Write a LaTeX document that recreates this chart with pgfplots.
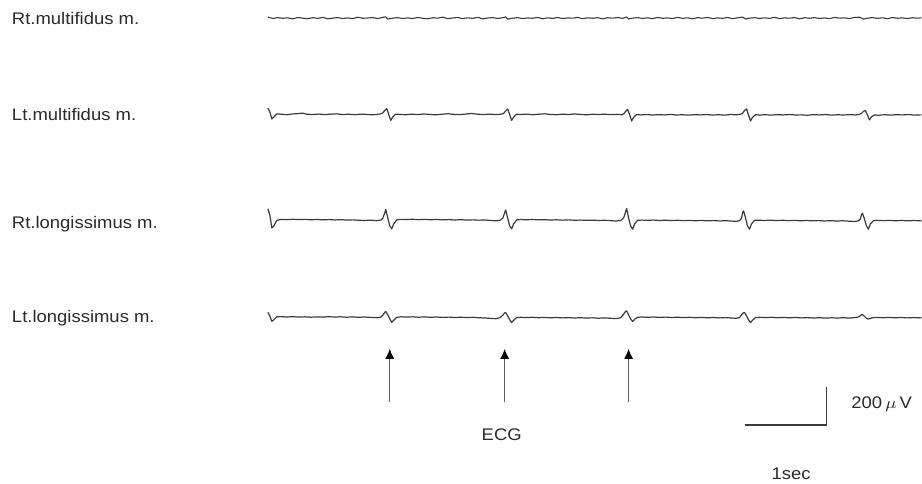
\documentclass[border=0pt]{standalone}
\usepackage{pgfplots}
\pgfplotsset{compat=1.18}
\usepackage{fontspec}
\setmainfont{Liberation Sans}
\usetikzlibrary{arrows.meta}
\definecolor{trace}{HTML}{3A3A3A}
\definecolor{txt}{HTML}{2A2A2A}
\tikzset{lbl/.style={anchor=base west, inner sep=0pt, outer sep=0pt, text=txt,
              font=\fontsize{8.4}{9}\selectfont, xscale=1.1}}
\begin{document}
\begin{tikzpicture}
\begin{axis}[
  scale only axis, width=461pt, height=242pt,
  xmin=0, xmax=922, ymin=0, ymax=484, y dir=reverse,
  hide axis, clip=false,
  every axis plot/.append style={line join=round},
]
\addplot[draw=none] coordinates {(0,0) (922,484)};
% Rt. multifidus
\addplot[trace, line width=0.55pt] coordinates {
(268,17)(273,18.5)(278,17.6)(283,18.3)(288,17.8)(293,18.9)(298,17.5)(303,18.2)(308,18.6)(313,17.7)(318,18.4)(323,17.3)(328,18.8)(333,18.1)(338,17.6)(343,18.5)(348,17.9)(353,18.7)(358,17.2)(363,18.3)(368,18.0)(373,17.6)(378,18.6)(383,17.4)(386,16.8)(388,19.2)(393,18.1)(398,17.7)(403,18.5)(408,17.9)(413,18.6)(418,17.4)(423,18.3)(428,18.8)(433,17.7)(438,18.2)(443,17.1)(448,18.7)(453,18.0)(458,17.5)(463,18.6)(468,17.8)(473,18.4)(478,17.3)(483,18.9)(488,18.0)(493,17.6)(498,18.5)(503,17.7)(506,16.9)(508,19.1)(513,18.2)(518,17.6)(523,18.6)(528,17.9)(533,18.3)(538,17.4)(543,18.8)(548,17.8)(553,18.4)(558,17.5)(563,18.6)(568,17.9)(573,18.2)(578,17.4)(583,18.7)(588,17.8)(593,18.3)(598,17.6)(603,18.9)(608,17.7)(613,18.2)(618,17.5)(623,18.4)(627,17.0)(629,19.0)(633,18.1)(638,17.6)(643,18.5)(648,17.8)(653,18.7)(658,17.4)(663,18.3)(668,17.9)(673,18.6)(678,17.3)(683,18.4)(688,17.8)(693,18.8)(698,17.6)(703,18.2)(708,17.4)(713,18.6)(718,17.9)(723,18.3)(728,17.5)(733,18.7)(738,17.8)(743,17.1)(746,19.0)(750,18.2)(755,17.6)(760,18.5)(765,17.8)(770,18.4)(775,17.3)(780,18.6)(785,17.9)(790,18.2)(795,17.5)(800,18.8)(805,17.7)(810,18.3)(815,17.6)(820,18.5)(825,17.9)(830,18.7)(835,17.4)(840,18.2)(845,17.8)(850,18.6)(855,17.5)(860,17.2)(864,19.0)(868,18.2)(873,17.6)(878,18.4)(883,17.8)(888,18.7)(893,17.5)(898,18.3)(903,17.9)(908,18.6)(913,17.7)(918,18.2)(922,17.9)
};
% Lt. multifidus
\addplot[trace, line width=0.6pt] coordinates {
(268,108)(270,112)(272,119)(274,117)(277,114)(281,114.2)(287,114.8)(293,114.0)(299,113.6)(303,113.2)(307,114.3)(313,114.6)(319,114.1)(325,114.7)(331,114.2)(337,113.9)(343,114.6)(349,114.3)(355,114.8)(361,114.2)(367,114.5)(373,114.9)(379,114.2)
(380,114.2)(383,113)(385,110.5)(387,108.5)(389,114.5)(391,120.5)(393,117)(396,114.2)(400,114.5)
(406,114.8)(412,114.2)(418,114.6)(424,114.0)(430,114.5)(436,114.9)(442,114.3)(448,113.8)(454,114.4)(460,114.7)(466,114.1)(472,113.6)(478,114.3)(484,114.6)(490,114.2)(496,114.7)(501,114.3)
(504,113.5)(506,111)(508,109)(510,114.5)(512,120.5)(514,117)(517,114.3)(521,114.6)
(527,114.2)(533,114.8)(539,114.3)(545,113.9)(551,114.5)(557,114.8)(563,114.2)(569,114.6)(575,114.0)(581,114.5)(587,114.9)(593,114.3)(599,114.6)(605,114.2)(611,114.7)(617,114.4)(622,114.8)
(624,114)(626,111.5)(628,109.5)(630,114.5)(632,121)(634,117.5)(637,114.6)(641,115)
(647,114.6)(653,115.1)(659,114.7)(665,115.0)(671,114.5)(677,115.1)(683,114.8)(689,115.2)(695,114.7)(701,115.0)(707,114.6)(713,115.1)(719,114.8)(725,115.2)(731,114.6)(737,114.9)(741,114.3)
(743,113.5)(745,110.5)(747,109)(749,115)(751,121)(753,117.5)(756,114.8)(760,115.1)
(766,114.8)(772,115.2)(778,114.7)(784,115.0)(790,114.6)(796,115.1)(802,114.9)(808,115.3)(814,114.7)(820,115.0)(826,114.6)(832,115.2)(838,114.8)(844,115.1)(850,114.7)(856,115.0)(860,114.4)
(862,113.5)(864,111.5)(866,110.5)(868,115)(870,120)(872,117)(875,115)(879,115.3)
(885,114.8)(891,115.2)(897,114.7)(903,115.0)(909,114.6)(915,115.2)(922,114.9)
};
% Rt. longissimus
\addplot[trace, line width=0.6pt] coordinates {
(268,209)(270,215)(272,228)(274,226)(277,220.5)(281,219.6)(287,219.8)(293,219.4)(299,219.7)(305,219.5)(311,219.9)(317,219.6)(323,220.0)(329,219.7)(335,220.1)(341,219.8)(347,220.2)(353,220.0)(359,220.4)(365,220.6)(371,220.3)(377,220.8)(381,220.2)
(383,218.5)(385,213)(386,209.5)(388,218)(390,226)(392,229)(394,224)(397,220)(401,219.5)
(407,219.7)(413,219.4)(419,219.8)(425,219.5)(431,219.9)(437,219.6)(443,220.0)(449,219.7)(455,220.1)(461,219.8)(467,220.2)(473,220.0)(479,220.3)(485,220.1)(491,220.6)(496,221.0)(500,220.5)
(503,218.5)(505,213)(506,210)(508,218)(510,226)(512,229)(514,224)(517,220)(521,219.7)
(527,219.9)(533,219.6)(539,220.0)(545,219.8)(551,220.2)(557,219.9)(563,220.3)(569,220.0)(575,220.4)(581,220.2)(587,220.5)(593,220.3)(599,220.6)(605,220.4)(611,220.8)(617,221.2)(621,220.6)
(624,218)(626,212)(627,208.5)(629,218)(631,226)(633,229.3)(635,224)(638,220.5)(642,220.2)
(648,220.5)(654,220.2)(660,220.6)(666,220.3)(672,220.7)(678,220.4)(684,220.8)(690,220.5)(696,220.9)(702,220.6)(708,221.0)(714,220.7)(720,221.1)(726,220.8)(732,221.2)(737,221.5)(740,220.8)
(742,218.5)(743,213)(744,211)(746,218)(748,226)(750,229.3)(752,224)(755,220.5)(759,220.3)
(765,220.6)(771,220.3)(777,220.7)(783,220.4)(789,220.8)(795,220.5)(801,220.9)(807,220.6)(813,221.0)(819,220.7)(825,221.1)(831,220.8)(837,221.2)(843,220.9)(849,221.3)(855,221.6)(859,221.0)
(861,219)(862,215)(863,213.3)(865,219)(867,226)(869,229.3)(871,224)(874,220.8)(878,220.5)
(884,220.8)(890,220.5)(896,220.9)(902,220.6)(908,221.0)(914,220.7)(922,220.9)
};
% Lt. longissimus
\addplot[trace, line width=0.6pt] coordinates {
(268,312.5)(270,316)(272,321.5)(274,320)(277,317)(281,316.8)(287,317.2)(293,316.9)(299,317.3)(305,317.0)(311,317.4)(317,317.1)(323,317.3)(329,316.9)(335,317.2)(341,317.0)(347,317.4)(353,317.1)(359,317.5)(365,317.2)(371,317.6)(377,317.9)(381,317.4)
(383,315.5)(385,312.5)(386,311.7)(388,315)(390,319)(392,322.5)(394,320.5)(397,317.5)(401,317.0)
(407,317.3)(413,317.0)(419,317.4)(425,317.1)(431,317.5)(437,317.2)(443,317.6)(449,317.3)(455,317.7)(461,317.4)(467,317.8)(473,317.5)(479,317.9)(485,318.2)(491,318.6)(496,318.9)(500,318.0)
(503,315.5)(505,313)(506,312.8)(508,316)(510,320)(512,322.7)(514,320.5)(517,317.8)(521,317.5)
(527,317.8)(533,317.5)(539,317.9)(545,317.6)(551,318.0)(557,317.7)(563,318.1)(569,317.8)(575,318.2)(581,317.9)(587,318.3)(593,318.0)(599,318.4)(605,318.1)(611,318.5)(617,318.8)(621,318.0)
(624,314.5)(626,311.5)(627,311)(629,315)(631,319)(633,321.7)(635,319.5)(638,317.5)(642,317.2)
(648,317.5)(654,317.2)(660,317.6)(666,317.3)(672,317.7)(678,317.4)(684,317.8)(690,317.5)(696,317.9)(702,317.6)(708,318.0)(714,317.7)(720,318.1)(726,317.8)(732,318.2)(737,318.5)(740,317.8)
(742,315)(744,313)(745,312.7)(747,316)(749,320)(751,322.7)(753,320.5)(756,317.8)(760,317.5)
(766,317.8)(772,317.5)(778,317.9)(784,317.6)(790,318.0)(796,317.7)(802,318.1)(808,317.8)(814,318.2)(820,317.9)(826,318.3)(832,318.0)(838,318.2)(844,317.9)(850,318.3)(855,317.8)(859,317.2)
(861,315.8)(862,315)(863,314.7)(865,316.5)(867,318.5)(869,319.3)(871,318.5)(874,317.8)(878,317.6)
(884,317.9)(890,317.6)(896,318.0)(902,317.7)(908,318.1)(914,317.8)(922,318.0)
};
% ECG arrows
\addplot[gray!75!black, line width=0.6pt, -{Latex[length=5pt,width=4.5pt,color=black]}] coordinates {(390,402) (390,349)};
\addplot[gray!75!black, line width=0.6pt, -{Latex[length=5pt,width=4.5pt,color=black]}] coordinates {(505,402) (505,349)};
\addplot[gray!75!black, line width=0.6pt, -{Latex[length=5pt,width=4.5pt,color=black]}] coordinates {(629,402) (629,349)};
% scale bar
\addplot[trace, line width=0.85pt, line join=miter] coordinates {(745,425) (827,425) (827,387)};
% labels
\node[lbl] at (axis cs:12,25) {Rt.multifidus m.};
\node[lbl] at (axis cs:12,121) {Lt.multifidus m.};
\node[lbl] at (axis cs:12,229) {Rt.longissimus m.};
\node[lbl] at (axis cs:12,323) {Lt.longissimus m.};
\node[lbl] at (axis cs:482,441) {ECG};
\node[lbl] at (axis cs:852,409) {200\,$\mu$\,V};
\node[lbl] at (axis cs:772,480) {1sec};
\end{axis}
\end{tikzpicture}
\end{document}
